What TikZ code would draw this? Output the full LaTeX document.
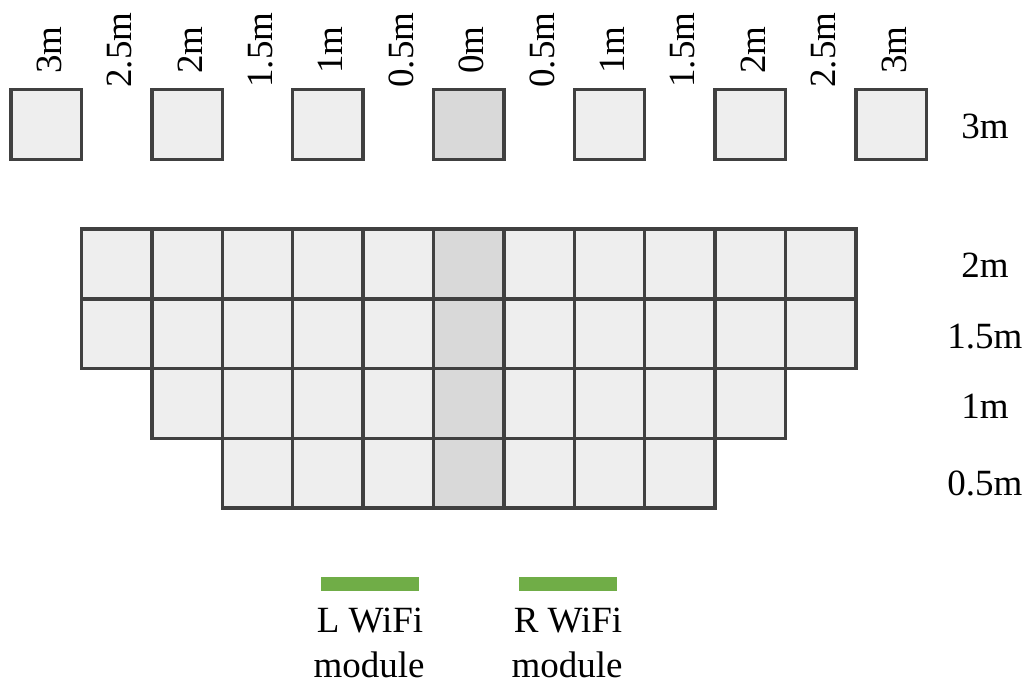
\documentclass[tikz,border=0pt]{standalone}
\usepackage{fontspec}
\setmainfont{Liberation Serif}
\definecolor{cellfill}{HTML}{EEEEEE}
\definecolor{midfill}{HTML}{D9D9D9}
\definecolor{edgecol}{HTML}{404040}
\definecolor{wifi}{HTML}{70AD47}
\tikzset{
  cell/.style={draw=edgecol, line width=3.5pt, fill=cellfill, minimum width=70.4pt, minimum height=69.75pt, inner sep=0pt, outer sep=0pt},
  midcell/.style={cell, fill=midfill},
  lbl/.style={font=\fontsize{37}{46}\selectfont, inner sep=0pt, outer sep=0pt, anchor=base},
  bar/.style={fill=wifi, minimum width=98pt, minimum height=14pt, inner sep=0pt, outer sep=0pt}
}
\begin{document}
\begin{tikzpicture}[x=1pt,y=-1pt]
\useasboundingbox (0,0) rectangle (1034,681);
% grid cells
\foreach \r/\a/\b in {0/0/10,1/0/10,2/1/9,3/2/8}{
  \foreach \c in {\a,...,\b}{
    \node[cell] (g-\r-\c) at ({81.5+70.4*(\c+0.5)}, {229+69.75*(\r+0.5)}) {};
  }
  \node[midcell] (g-\r-5) at ({81.5+70.4*5.5}, {229+69.75*(\r+0.5)}) {};
}
% top squares
\foreach \k in {-3,-2,-1,1,2,3}{
  \node[cell] (t\k) at ({468.7+140.8*\k}, 124.5) {};
}
\node[midcell] (t0) at (468.7,124.5) {};
% top rotated labels
\foreach \t [count=\i] in {3m,2.5m,2m,1.5m,1m,0.5m,0m,0.5m,1m,1.5m,2m,2.5m,3m}{
  \node[lbl, rotate=90] (h\i) at ({468.7+15+70.4*(\i-7)}, 50) {\t};
}
% right labels
\node[lbl] (r30) at (985,138.5) {3m};
\node[lbl] (r20) at (985,277.5) {2m};
\node[lbl] (r15) at (985,348.5) {1.5m};
\node[lbl] (r10) at (985,418.5) {1m};
\node[lbl] (r05) at (985,495.5) {0.5m};
% wifi modules
\node[bar] (lw) at (370,584) {};
\node[bar] (rw) at (567.5,584) {};
\node[lbl] (lw1) at (370,632) {L WiFi};
\node[lbl] (lw2) at (369,677) {module};
\node[lbl] (rw1) at (568,632) {R WiFi};
\node[lbl] (rw2) at (567,677) {module};
\end{tikzpicture}
\end{document}
